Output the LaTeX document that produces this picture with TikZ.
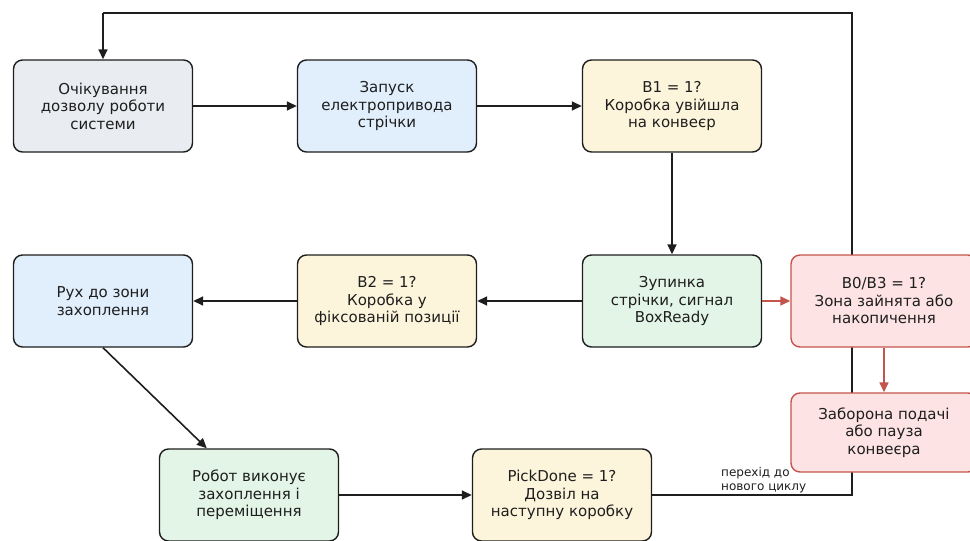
\documentclass[tikz,border=0pt]{standalone}
\usepackage{fontspec}
\setmainfont{DejaVu Sans}
\usetikzlibrary{arrows.meta,calc}

\definecolor{inkc}{HTML}{1E1E1E}
\definecolor{fillgray}{HTML}{E9ECF0}
\definecolor{fillblue}{HTML}{E1EEFC}
\definecolor{fillyellow}{HTML}{FDF5DB}
\definecolor{fillgreen}{HTML}{E3F5E6}
\definecolor{fillred}{HTML}{FDE3E3}
\definecolor{edgered}{HTML}{C4554C}

\begin{document}
\begin{tikzpicture}[x=1pt,y=-1pt,
  box/.style={draw=inkc, line width=1.4pt, rounded corners=9pt,
    minimum width=179pt, minimum height=92pt, inner sep=0pt,
    align=center, text=inkc, font=\fontsize{15}{17.5}\selectfont},
  graybox/.style={box, fill=fillgray},
  bluebox/.style={box, fill=fillblue},
  yellowbox/.style={box, fill=fillyellow},
  greenbox/.style={box, fill=fillgreen},
  redbox/.style={box, draw=edgered, fill=fillred, minimum width=186pt},
  flow/.style={draw=inkc, line width=1.6pt, -{Triangle[length=10pt,width=9pt]}},
  plain/.style={draw=inkc, line width=1.6pt},
  redflow/.style={draw=edgered, line width=1.6pt, -{Triangle[length=10pt,width=9pt]}},
  note/.style={font=\fontsize{12}{14}\selectfont, text=inkc, align=left, inner sep=0pt}
]
\useasboundingbox (0,0) rectangle (970,541);
\clip (0,0) rectangle (970,541);

% return line of the cycle (drawn first, boxes sit on top of it)
\coordinate (loopR) at (852,495);
\coordinate (loopT) at (852,13);
\coordinate (loopL) at (103,13);

% first row
\node[graybox]   (wait)  at (103,106) {Очікування\\дозволу роботи\\системи};
\node[bluebox]   (start) at (387,106) {Запуск\\електропривода\\стрічки};
\node[yellowbox] (bone)  at (672,106) {B1 = 1?\\Коробка увійшла\\на конвеєр};

% second row
\node[bluebox]   (move)  at (103,301) {Рух до зони\\захоплення};
\node[yellowbox] (btwo)  at (387,301) {B2 = 1?\\Коробка у\\фіксованій позиції};
\node[greenbox]  (stop)  at (672,301) {Зупинка\\стрічки, сигнал\\BoxReady};

% third row
\node[greenbox]  (robot) at (249,495) {Робот виконує\\захоплення і\\переміщення};
\node[yellowbox] (pick)  at (562,495) {PickDone = 1?\\Дозвіл на\\наступну коробку};

% feedback loop behind the red boxes
\draw[plain] (pick.east) -- (loopR) -- (loopT) -- (loopL);
\draw[flow] (loopL) -- (wait.north);
\node[note, anchor=south west] (lbl) at (721,493) {перехід до\\нового циклу};

% alarm branch
\node[redbox] (busy)  at (884,301) {B0/B3 = 1?\\Зона зайнята або\\накопичення};
\node[redbox, minimum height=79pt] (block) at (884,432.5) {Заборона подачі\\або пауза\\конвеєра};

% main flow
\draw[flow] (wait) -- (start);
\draw[flow] (start) -- (bone);
\draw[flow] (bone) -- (stop);
\draw[flow] (stop) -- (btwo);
\draw[flow] (btwo) -- (move);
\draw[flow] (move.south) -- ($(robot.north west)+(48,0)$);
\draw[flow] (robot) -- (pick);
\draw[redflow] (stop) -- (busy);
\draw[redflow] (busy) -- (block);
\end{tikzpicture}
\end{document}
